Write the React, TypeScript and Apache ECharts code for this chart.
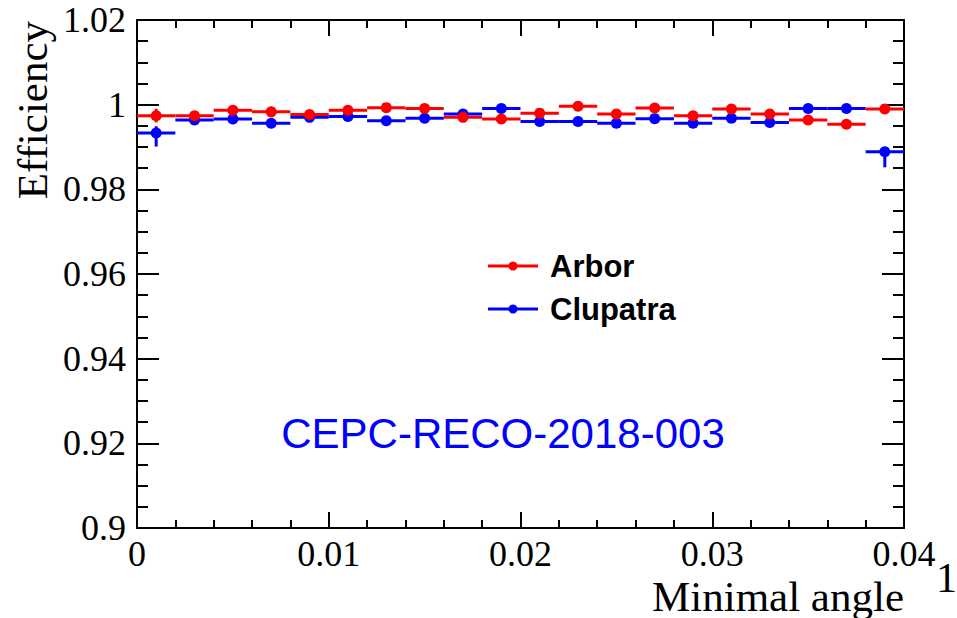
import React, { useEffect, useRef } from "react";
import * as echarts from "echarts";

// ---- Data ----
const binCenters = [
  0.001, 0.003, 0.005, 0.007, 0.009, 0.011, 0.013, 0.015, 0.017, 0.019,
  0.021, 0.023, 0.025, 0.027, 0.029, 0.031, 0.033, 0.035, 0.037, 0.039,
];
const binHalfWidth = 0.001;
const seriesNames = ["Arbor", "Clupatra"];
const seriesColors = ["#ff0000", "#0000ff"];

const arborEff = [
  0.9974, 0.9974, 0.9987, 0.9983, 0.9977, 0.9987, 0.9993, 0.9991, 0.997, 0.9966,
  0.998, 0.9996, 0.9978, 0.9992, 0.9974, 0.999, 0.9978, 0.9964, 0.9954, 0.999,
];
const arborErrUp = [
  0.0016, 0.0002, 0.0002, 0.0002, 0.0002, 0.0002, 0.0002, 0.0002, 0.0002, 0.0002,
  0.0002, 0.0002, 0.0002, 0.0002, 0.0002, 0.0002, 0.0002, 0.0002, 0.0002, 0.0002,
];
const arborErrDown = [
  0.0016, 0.0002, 0.0002, 0.0002, 0.0002, 0.0002, 0.0002, 0.0002, 0.0002, 0.0002,
  0.0002, 0.0002, 0.0002, 0.0002, 0.0002, 0.0002, 0.0002, 0.0002, 0.0002, 0.0002,
];

const clupatraEff = [
  0.9933, 0.9964, 0.9966, 0.9956, 0.997, 0.9972, 0.9962, 0.9968, 0.9978, 0.9991,
  0.996, 0.996, 0.9956, 0.9967, 0.9956, 0.9968, 0.9958, 0.9991, 0.9991, 0.9889,
];
const clupatraErrUp = [
  0.0016, 0.0002, 0.0002, 0.0002, 0.0002, 0.0002, 0.0002, 0.0002, 0.0002, 0.0002,
  0.0002, 0.0002, 0.0002, 0.0002, 0.0002, 0.0002, 0.0002, 0.0002, 0.0002, 0.0008,
];
const clupatraErrDown = [
  0.0032, 0.0002, 0.0002, 0.0002, 0.0002, 0.0002, 0.0002, 0.0002, 0.0002, 0.0002,
  0.0002, 0.0002, 0.0002, 0.0002, 0.0002, 0.0002, 0.0002, 0.0002, 0.0002, 0.0037,
];

const xMin = 0;
const xMax = 0.04;
const xInterval = 0.01;
const yMin = 0.9;
const yMax = 1.02;
const yInterval = 0.02;

const xTitle = "Minimal angle";
const yTitle = "Efficiency";
const stampText = "CEPC-RECO-2018-003";
const edgeText = "1";

// ---- Helpers ----
const serif = "'Liberation Serif', 'DejaVu Serif', serif";
const sans = "'Liberation Sans', Arial, 'DejaVu Sans', sans-serif";

function buildData(eff: number[], up: number[], dn: number[]) {
  return binCenters.map((x, i) => [x, eff[i], up[i], dn[i]]);
}

function makeRenderItem(color: string) {
  return (params: any, api: any) => {
    const x = api.value(0);
    const y = api.value(1);
    const up = api.value(2);
    const dn = api.value(3);
    const pL = api.coord([x - binHalfWidth, y]);
    const pR = api.coord([x + binHalfWidth, y]);
    const pC = api.coord([x, y]);
    const pU = api.coord([x, y + up]);
    const pD = api.coord([x, y - dn]);
    return {
      type: "group",
      children: [
        {
          type: "line",
          shape: { x1: pL[0], y1: pL[1], x2: pR[0], y2: pR[1] },
          style: { stroke: color, lineWidth: 3 },
        },
        {
          type: "line",
          shape: { x1: pU[0], y1: pU[1], x2: pD[0], y2: pD[1] },
          style: { stroke: color, lineWidth: 3 },
        },
        {
          type: "circle",
          shape: { cx: pC[0], cy: pC[1], r: 5.5 },
          style: { fill: color },
        },
      ],
    };
  };
}

function fmt(v: number, digits: number) {
  return String(Number(v.toFixed(digits)));
}

export default function App() {
  const ref = useRef<HTMLDivElement>(null);

  useEffect(() => {
    if (!ref.current) return;
    const chart = echarts.init(ref.current, undefined, { renderer: "svg" });

    const axisLineStyle = { show: true, onZero: false, lineStyle: { color: "#000", width: 2 } };

    const makeX = (pos: "bottom" | "top", labels: boolean) => ({
      type: "value",
      position: pos,
      min: xMin,
      max: xMax,
      interval: xInterval,
      axisLine: axisLineStyle,
      splitLine: { show: false },
      axisTick: { show: true, inside: true, length: 16, lineStyle: { color: "#000", width: 2 } },
      minorTick: { show: true, splitNumber: 5, length: 8, lineStyle: { color: "#000", width: 2 } },
      axisLabel: {
        show: labels,
        margin: 8,
        color: "#000",
        fontFamily: serif,
        fontSize: 36,
        formatter: (v: number) => fmt(v, 3),
      },
    });

    const makeY = (pos: "left" | "right", labels: boolean) => ({
      type: "value",
      position: pos,
      min: yMin,
      max: yMax,
      interval: yInterval,
      axisLine: axisLineStyle,
      splitLine: { show: false },
      axisTick: { show: true, inside: true, length: 22, lineStyle: { color: "#000", width: 2 } },
      minorTick: { show: true, splitNumber: 4, length: 11, lineStyle: { color: "#000", width: 2 } },
      axisLabel: {
        show: labels,
        margin: 11,
        color: "#000",
        fontFamily: serif,
        fontSize: 36,
        formatter: (v: number) => fmt(v, 2),
      },
    });

    const legendYs = [266, 309];
    const legendGraphics: any[] = [];
    seriesNames.forEach((name, i) => {
      const y = legendYs[i];
      legendGraphics.push(
        {
          type: "line",
          shape: { x1: 488, y1: y, x2: 538, y2: y },
          style: { stroke: seriesColors[i], lineWidth: 3 },
        },
        {
          type: "circle",
          shape: { cx: 513, cy: y, r: 4.5 },
          style: { fill: seriesColors[i] },
        },
        {
          type: "text",
          x: 550,
          y: y,
          style: {
            text: name,
            fill: "#000",
            font: `bold 31px ${sans}`,
            textAlign: "left",
            textVerticalAlign: "middle",
          },
        }
      );
    });

    const option: any = {
      animation: false,
      backgroundColor: "#fff",
      grid: { left: 137, right: 53, top: 20, bottom: 90, containLabel: false },
      xAxis: [makeX("bottom", true), makeX("top", false)],
      yAxis: [makeY("left", true), makeY("right", false)],
      series: [
        {
          name: seriesNames[1],
          type: "custom",
          xAxisIndex: 0,
          yAxisIndex: 0,
          renderItem: makeRenderItem(seriesColors[1]),
          data: buildData(clupatraEff, clupatraErrUp, clupatraErrDown),
          encode: { x: 0, y: 1 },
          clip: true,
        },
        {
          name: seriesNames[0],
          type: "custom",
          xAxisIndex: 0,
          yAxisIndex: 0,
          renderItem: makeRenderItem(seriesColors[0]),
          data: buildData(arborEff, arborErrUp, arborErrDown),
          encode: { x: 0, y: 1 },
          clip: true,
        },
      ],
      graphic: [
        ...legendGraphics,
        {
          type: "text",
          x: 503,
          y: 433,
          style: {
            text: stampText,
            fill: "#0000ff",
            font: `42px ${sans}`,
            textAlign: "center",
            textVerticalAlign: "middle",
          },
        },
        {
          type: "text",
          x: 32,
          y: 21,
          rotation: Math.PI / 2,
          style: {
            text: yTitle,
            fill: "#000",
            font: `43px ${serif}`,
            textAlign: "right",
            textVerticalAlign: "middle",
          },
        },
        {
          type: "text",
          x: 904,
          y: 596,
          style: {
            text: xTitle,
            fill: "#000",
            font: `43px ${serif}`,
            textAlign: "right",
            textVerticalAlign: "middle",
          },
        },
        {
          type: "text",
          x: 957,
          y: 578,
          style: {
            text: edgeText,
            fill: "#000",
            font: `42px ${serif}`,
            textAlign: "right",
            textVerticalAlign: "middle",
          },
        },
      ],
    };

    chart.setOption(option);
    return () => {
      chart.dispose();
    };
  }, []);

  return (
    <div
      ref={ref}
      style={{ position: "fixed", left: 0, top: 0, width: 957, height: 618, background: "#fff" }}
    />
  );
}
